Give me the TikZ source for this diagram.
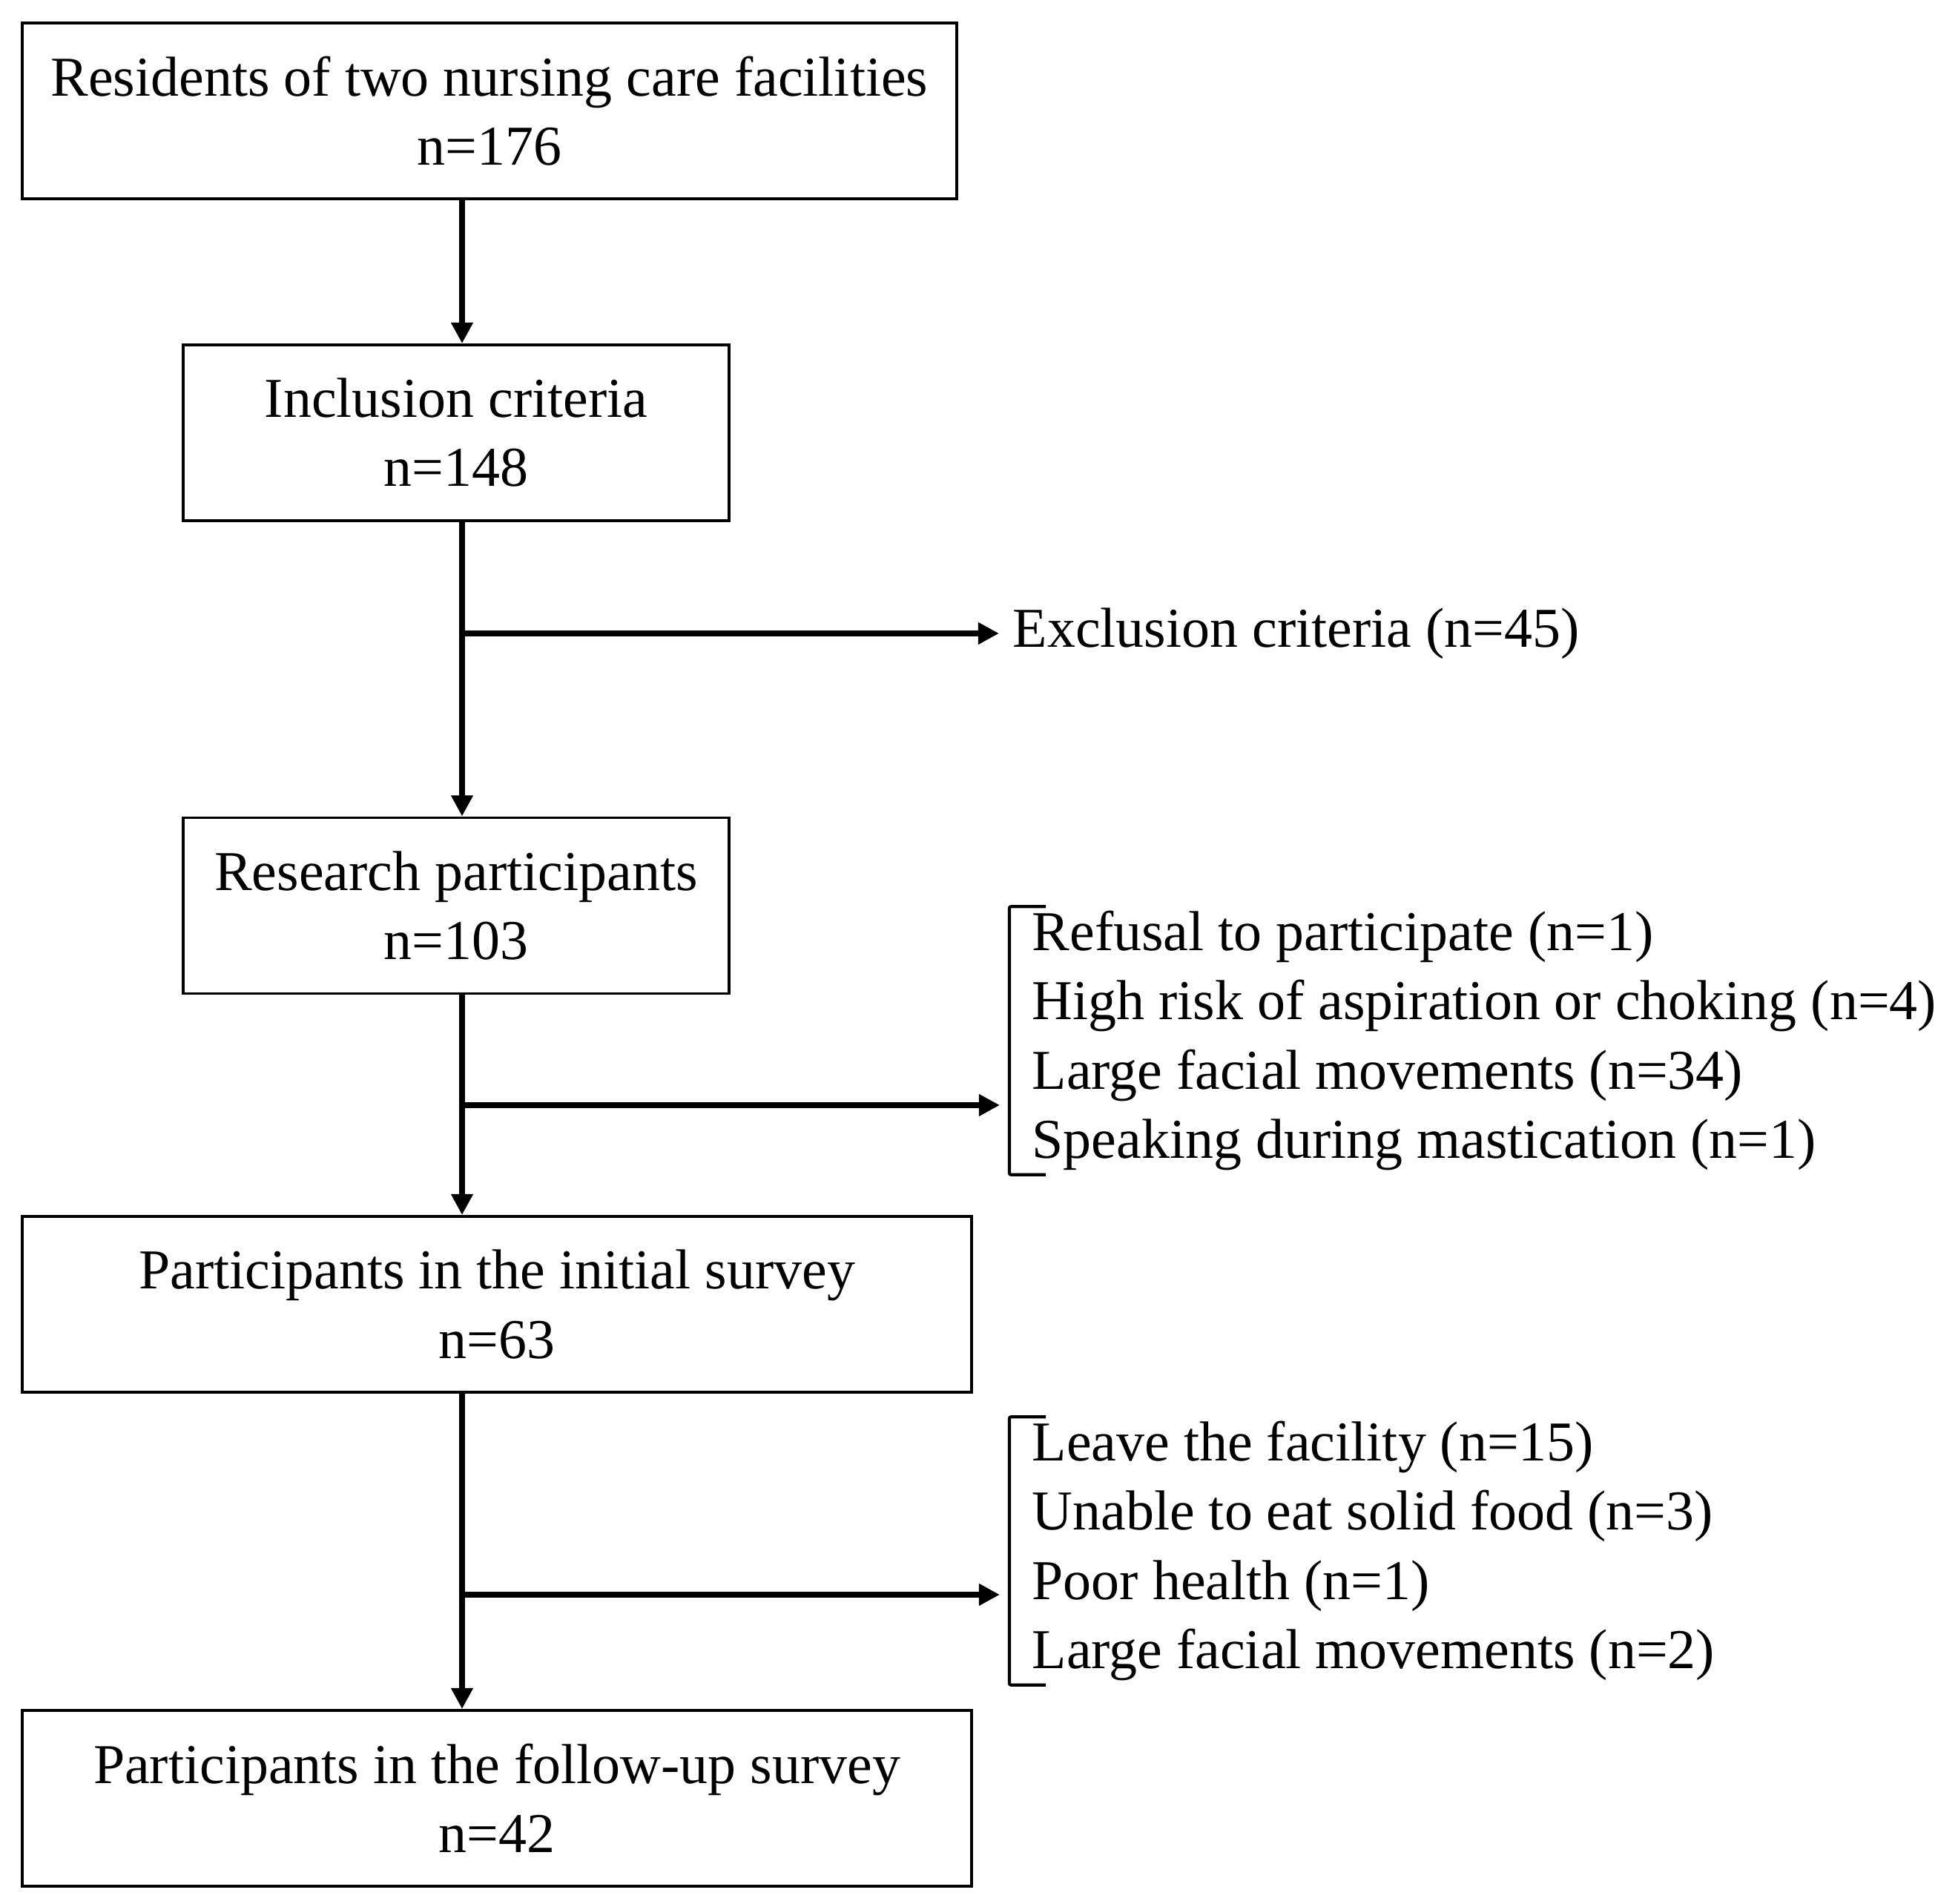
\documentclass[tikz,border=0pt]{standalone}
\usepackage{fontspec}
\setmainfont{Liberation Serif}
\usetikzlibrary{calc,arrows.meta}

\begin{document}
\begin{tikzpicture}[
  font=\fontsize{21.6}{26.5}\selectfont,
  box/.style={draw, line width=1.1pt, minimum height=2.37cm, align=center, inner sep=0pt},
  flow/.style={line width=2.2pt, -{Triangle[length=8pt,width=8pt]}},
  reasons/.style={anchor=west, align=left, inner xsep=3mm, inner ysep=0pt, minimum height=3.6cm},
  hook/.style={line width=1.2pt, rounded corners=0.6pt}]
  \useasboundingbox (0,0) rectangle (26.40,25.67);

  % Main column of boxes
  \node[box, minimum width=12.6cm] (res) at (6.60,24.175)
    {Residents of two nursing care facilities\\n=176};
  \node[box, minimum width=7.36cm] (incl) at (6.15,19.835)
    {Inclusion criteria\\n=148};
  \node[box, minimum width=7.36cm] (part) at (6.15,13.46)
    {Research participants\\n=103};
  \node[box, minimum width=12.8cm] (init) at (6.70,8.085)
    {Participants in the initial survey\\n=63};
  \node[box, minimum width=12.8cm] (follow) at (6.70,1.425)
    {Participants in the follow-up survey\\n=42};

  % Vertical flow line
  \coordinate (spine) at (6.23,0);
  \draw[flow] (res.south -| spine) -- (incl.north -| spine);
  \draw[flow] (incl.south -| spine) -- (part.north -| spine);
  \draw[flow] (part.south -| spine) -- (init.north -| spine);
  \draw[flow] (init.south -| spine) -- (follow.north -| spine);

  % Exclusions
  \node[anchor=west, inner xsep=1.8mm] (excl) at (13.47,17.13) {Exclusion criteria (n=45)};
  \coordinate (br1) at (spine |- excl.west);
  \draw[flow] (br1) -- (excl.west);

  % Dropouts before the initial survey
  \node[reasons] (why1) at (13.61,11.64)
    {Refusal to participate (n=1)\\
     High risk of aspiration or choking (n=4)\\
     Large facial movements (n=34)\\
     Speaking during mastication (n=1)};
  \draw[hook] ([xshift=4.9mm]why1.north west) -- (why1.north west)
    -- (why1.south west) -- ++(4.9mm,0);
  \coordinate (br2) at (6.23,10.77);
  \draw[flow] (br2) -- ([xshift=-1.3mm]why1.west |- br2);

  % Dropouts before the follow-up
  \node[reasons] (why2) at (13.61,4.76)
    {Leave the facility (n=15)\\
     Unable to eat solid food (n=3)\\
     Poor health (n=1)\\
     Large facial movements (n=2)};
  \draw[hook] ([xshift=4.9mm]why2.north west) -- (why2.north west)
    -- (why2.south west) -- ++(4.9mm,0);
  \coordinate (br3) at (6.23,4.17);
  \draw[flow] (br3) -- ([xshift=-1.3mm]why2.west |- br3);
\end{tikzpicture}
\end{document}
